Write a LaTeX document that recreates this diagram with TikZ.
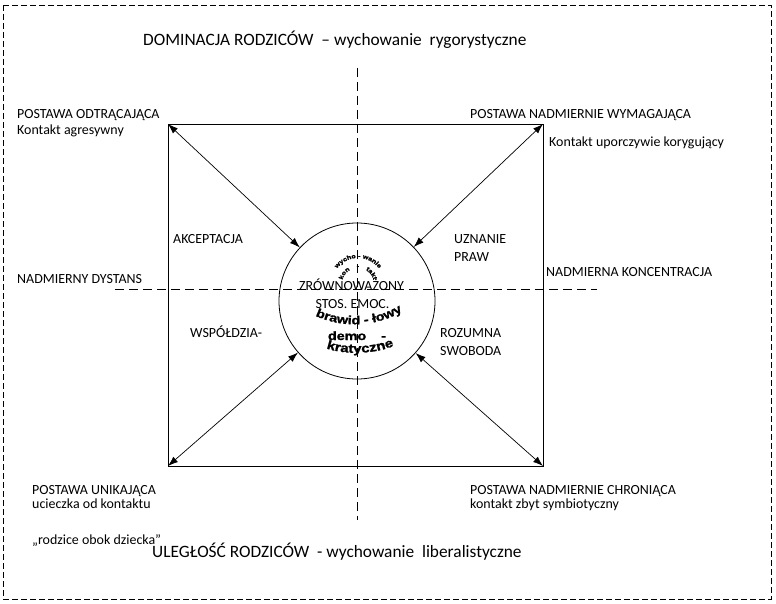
\documentclass[tikz,border=0pt]{standalone}
\usepackage{fontspec}
\setmainfont{Carlito}
\newfontfamily\wab[FakeStretch=1.2,FakeBold=1.5]{Liberation Sans}
\usetikzlibrary{arrows.meta,decorations.text}
\begin{document}
\begin{tikzpicture}[x=1bp,y=-1bp,
  lbl/.style={anchor=base west,inner sep=0pt,font=\fontsize{14}{16}\selectfont},
  clbl/.style={anchor=base,inner sep=0pt,font=\fontsize{14}{16}\selectfont},
  ttl/.style={anchor=base west,inner sep=0pt,font=\fontsize{17.4}{20}\selectfont},
  frame/.style={line width=0.9bp},
  cross/.style={line width=0.7bp,dash pattern=on 9bp off 5bp},
  border/.style={line width=0.7bp,dash pattern=on 6bp off 3bp},
  arr/.style={line width=0.7bp,{Latex[length=10bp,width=7bp]}-{Latex[length=10bp,width=7bp]}},
  centre/.style={circle,draw,line width=0.8bp,minimum size=156bp,inner sep=0pt}
]
\useasboundingbox (0,0) rectangle (776,604);
\fill[white] (0,0) rectangle (776,604);
% outer border
\coordinate (ob1) at (3,5);
\coordinate (ob2) at (771,599);
\draw[border] (ob1) rectangle (ob2);
% cross lines
\coordinate (vt) at (357,68);
\coordinate (vb) at (357,520);
\coordinate (hl) at (115,289);
\coordinate (hr) at (597,289);
\draw[cross] (vt) -- (vb);
\draw[cross] (hl) -- (hr);
% square
\coordinate (tl) at (168,124);
\coordinate (tr) at (543,124);
\coordinate (br) at (543,466);
\coordinate (bl) at (168,466);
\draw[frame] (tl) -- (tr) -- (br) -- (bl) -- cycle;
% centre circle
\node[centre] (c) at (357,301) {};
\draw[arr] (tl) -- (c);
\draw[arr] (tr) -- (c);
\draw[arr] (bl) -- (c);
\draw[arr] (br) -- (c);
% titles
\node[ttl] (top) at (143,46) {DOMINACJA RODZICÓW\ \ – wychowanie\ \ rygorystyczne};
\node[ttl] (bot) at (152,557) {ULEGŁOŚĆ RODZICÓW\ \ - wychowanie\ \ liberalistyczne};
% corner labels
\node[lbl] (odt) at (17,119) {POSTAWA ODTRĄCAJĄCA};
\node[lbl] (agr) at (17,135) {Kontakt agresywny};
\node[lbl] (wym) at (470,119) {POSTAWA NADMIERNIE WYMAGAJĄCA};
\node[lbl] (kor) at (549,147) {Kontakt uporczywie korygujący};
\node[lbl] (uni) at (32,494) {POSTAWA UNIKAJĄCA};
\node[lbl] (uci) at (32,508) {ucieczka od kontaktu};
\node[lbl] (chr) at (470,494) {POSTAWA NADMIERNIE CHRONIĄCA};
\node[lbl] (sym) at (470,508) {kontakt zbyt symbiotyczny};
\node[lbl] (obok) at (32,544) {„rodzice obok dziecka”};
% side labels
\node[lbl] (dys) at (17,283) {NADMIERNY DYSTANS};
\node[lbl] (kon) at (546,276) {NADMIERNA KONCENTRACJA};
% quadrant labels
\node[lbl] (akc) at (173,243) {AKCEPTACJA};
\node[lbl] (uzn) at (454,243) {UZNANIE};
\node[lbl] (praw) at (454,261) {PRAW};
\node[lbl] (wsp) at (190,337) {WSPÓŁDZIA-};
\node[lbl] (roz) at (440,337) {ROZUMNA};
\node[lbl] (swo) at (440,355) {SWOBODA};
% centre texts
\node[clbl] (zr) at (351.5,290.5) {ZRÓWNOWAŻONY};
\node[clbl] (st) at (352.5,308.5) {STOS. EMOC.};
% curved word-art texts (circle centre of top arcs at (358,284))
\path[decorate,decoration={text along path,text align=center,
  text={|\wab\bfseries\fontsize{6}{7}\selectfont|wycho - wanie}}]
  (335.5,271) arc[start angle=150,end angle=30,radius=26bp];
\path[decorate,decoration={text along path,text align={fit to path stretching spaces},
  text={|\wab\bfseries\fontsize{6}{7}\selectfont|kon - takt}}]
  (342.5,279.9) arc[start angle=165,end angle=15,radius=16bp];
\path[decorate,decoration={text along path,text align=center,
  text={|\wab\bfseries\fontsize{12}{13}\selectfont|brawid - łowy}}]
  (305,310) .. controls (335,330) and (382,330) .. (412,304);
\node[anchor=base,inner sep=0pt,font=\wab\bfseries\fontsize{12}{13}\selectfont] (demo) at (357,340) {demo\hspace{15bp}-};
\path[decorate,decoration={text along path,text align=center,
  text={|\wab\bfseries\fontsize{12.5}{13}\selectfont|kratyczne}}]
  (314,343) .. controls (338,357) and (380,356) .. (406,340);
\end{tikzpicture}
\end{document}
